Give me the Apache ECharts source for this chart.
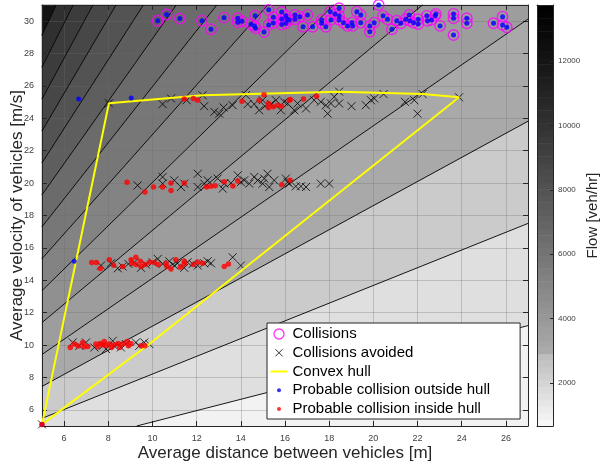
<!DOCTYPE html>
<html><head><meta charset="utf-8">
<script src="https://cdn.jsdelivr.net/npm/echarts@6/dist/echarts.min.js"></script>
<style>html,body{margin:0;padding:0;background:#fff}#c{width:602px;height:464px}</style>
</head><body><div id="c"></div>
<script>
// ---------- data ----------
const xTicks = [6, 8, 10, 12, 14, 16, 18, 20, 22, 24, 26];
const yTicks = [6, 8, 10, 12, 14, 16, 18, 20, 22, 24, 26, 28, 30];
const flowTicks = [2000, 4000, 6000, 8000, 10000, 12000];
const xRange = [5, 27];
const yRange = [5, 31];
const vehicleLength = 5; // flow = 3600 * v / (d + L)
const flowLevels = [1260, 1970, 2680, 3390, 4100, 4810, 5520, 6230, 6940, 7650, 8360, 9070, 9780, 10490];
const flowRange = [660, 13740];

const collisions = [
[10.24,30.03],[10.64,30.41],[11.24,30.16],[12.24,30.03],[12.65,29.50],[13.24,30.22],[13.86,30.18],[13.86,29.93],
[14.05,30.0],[14.46,29.81],[14.65,30.34],[14.62,29.71],[14.67,29.56],[15.05,29.33],[15.26,30.70],[15.26,29.77],
[15.47,30.24],[15.47,29.89],[15.85,30.57],[15.85,30.14],[15.85,29.79],[16.04,30.34],[16.09,30.14],[16.19,30.08],
[16.04,29.87],[16.45,30.39],[16.45,30.12],[16.67,30.28],[16.82,29.66],[17.02,30.39],[17.25,29.66],[17.66,30.08],
[17.66,29.87],[17.85,29.66],[18.05,30.59],[18.08,30.08],[18.26,30.45],[18.45,30.80],[18.45,30.32],[18.45,30.08],
[18.65,29.91],[18.83,29.71],[19.03,29.91],[19.06,29.71],[19.25,30.59],[19.43,30.39],[19.43,29.91],[19.84,29.71],
[19.84,29.35],[20.04,29.91],[20.24,31.0],[20.44,30.33],[20.64,30.12],[20.84,29.50],[21.06,30.03],[21.24,29.87],
[21.47,30.12],[21.62,30.39],[21.65,30.03],[21.82,29.91],[22.03,30.12],[22.03,29.83],[22.42,30.33],[22.45,30.03],
[22.63,30.08],[22.8,30.33],[22.83,30.45],[23.02,29.71],[23.63,30.45],[23.63,30.18],[23.63,29.15],[24.23,30.18],
[24.23,29.87],[25.44,29.87],[25.85,30.28],[25.85,29.77],[26.04,29.62]
];

const avoided = [
[5,5.1],
[8.03,24.93],[10.46,24.88],[10.84,25.23],[11.55,25.12],[12.27,25.43],[12.34,24.75],[12.8,24.40],[13.02,24.29],
[13.22,24.67],[13.63,24.81],[14.23,25.43],[14.31,24.88],[14.61,24.88],[14.83,24.50],[14.99,25.12],[15.09,24.75],
[15.36,24.88],[15.59,25.12],[15.81,24.50],[16.12,24.92],[15.96,25.02],[16.42,24.50],[16.57,24.92],[16.95,24.61],
[17.32,25.12],[17.62,25.02],[17.85,24.81],[17.93,24.29],[18.08,24.92],[18.23,25.33],[18.45,25.65],[18.45,24.92],
[19.01,24.75],[19.66,24.81],[19.89,25.12],[20.04,25.23],[20.46,25.50],[21.43,25.02],[21.85,25.12],[22.23,25.5],
[22.0,24.29],[23.88,25.3],
[9.33,19.86],[10.46,20.38],[10.46,19.97],[10.99,20.17],[11.29,19.76],[11.44,19.97],[12.05,20.58],[12.05,19.76],
[12.34,19.97],[12.5,20.17],[12.95,20.28],[13.18,19.66],[13.25,19.97],[13.55,20.0],[13.86,20.48],[14.0,20.06],
[14.15,20.17],[14.38,19.97],[14.61,20.38],[14.76,20.17],[14.99,19.97],[15.06,20.28],[15.21,20.58],[15.29,19.76],
[15.51,20.17],[16.12,20.06],[16.04,20.28],[16.19,19.97],[16.49,19.8],[16.72,19.8],[16.95,19.76],[17.62,19.97],[18.0,19.97],
[7.67,14.91],[8.12,15.05],[8.43,14.74],[8.65,14.85],[8.91,15.01],[9.18,15.11],[9.48,14.77],[9.71,14.97],
[10.01,15.11],[10.24,15.32],[10.46,15.01],[10.76,15.17],[10.99,14.91],[11.14,15.05],[11.44,14.77],[11.59,15.11],
[11.82,15.01],[12.05,14.91],[12.34,15.05],[12.5,15.17],[12.65,15.05],[13.63,15.42],[14.0,14.91],
[6.39,10.16],[6.69,9.95],[6.99,10.16],[7.37,9.85],[7.75,9.95],[7.9,9.75],[8.2,10.26],[8.27,9.95],
[8.57,9.85],[8.8,10.06],[9.25,10.16],[9.4,9.95],[9.63,10.16],[9.86,10.06]
];

const hull = [[5,5.1],[8.03,24.93],[12.27,25.43],[18.45,25.65],[22.23,25.5],[23.88,25.3],[9.86,10.06],[5,5.1]];

const outsideExtra = [[6.66,25.2],[9.04,25.25],[6.46,15.17],[5,5.1]];

const inside = [
[5,5.1],
[11.44,25.2],[11.85,25.23],[12.05,25.12],[14.05,25.06],[14.83,25.12],[15.05,25.45],[15.26,24.92],[15.26,24.67],
[15.47,24.71],[15.66,24.81],[15.85,24.75],[16.19,25.12],[16.24,25.16],[16.84,25.2],[17.43,25.37],
[8.85,20.05],[9.66,19.45],[10.05,19.76],[10.46,19.76],[10.84,20.0],[10.84,19.55],[11.44,20.0],[12.45,19.76],
[12.65,19.8],[12.84,19.84],[13.25,20.09],[13.64,19.82],[13.86,20.13],[15.85,19.9],[16.22,20.17],
[7.25,15.09],[7.46,15.09],[7.64,14.72],[8.05,15.26],[8.24,14.93],[8.65,14.85],[9.03,15.26],[9.06,15.05],
[9.25,15.42],[9.25,14.97],[9.45,15.17],[9.48,14.85],[9.66,14.97],[9.86,15.11],[10.08,15.09],[10.26,14.97],
[10.61,15.05],[10.66,14.85],[10.84,14.7],[11.06,15.26],[11.26,14.8],[11.44,15.17],[11.44,15.01],[11.85,14.97],
[12.05,15.13],[12.27,15.05],[13.25,14.85],[13.44,15.01],
[6.28,9.85],[6.46,10.06],[6.64,9.94],[6.84,10.16],[6.91,9.89],[7.07,9.91],[7.44,10.06],[7.52,9.89],
[7.64,10.1],[7.75,10.02],[7.82,10.22],[7.9,9.95],[8.05,10.06],[8.15,9.85],[8.27,10.02],[8.45,10.1],
[8.52,9.85],[8.65,10.06],[8.85,10.22],[8.91,9.95],[9.03,10.1],[9.48,9.95],[9.66,9.95]
];

// ---------- helpers ----------
const L = vehicleLength;
function grayAt(F) {
  let g;
  if (F < 3000) g = 250 - (F - flowRange[0]) * 0.028;
  else g = 170 * Math.pow(Math.max(0, 1 - (F - 3000) / (flowRange[1] - 3000)), 1.15);
  g = Math.max(0, Math.min(255, Math.round(g)));
  return 'rgb(' + g + ',' + g + ',' + g + ')';
}
function clipHalf(poly, f) {
  const out = [];
  for (let i = 0; i < poly.length; i++) {
    const a = poly[i], b = poly[(i + 1) % poly.length];
    const fa = f(a), fb = f(b);
    if (fa >= 0) out.push(a);
    if ((fa >= 0) !== (fb >= 0)) {
      const t = fa / (fa - fb);
      out.push([a[0] + t * (b[0] - a[0]), a[1] + t * (b[1] - a[1])]);
    }
  }
  return out;
}
const rectPoly = [[xRange[0], yRange[0]], [xRange[1], yRange[0]], [xRange[1], yRange[1]], [xRange[0], yRange[1]]];
const bounds = [flowRange[0]].concat(flowLevels, [flowRange[1]]);
const bands = [];
for (let i = 0; i < bounds.length - 1; i++) {
  const lo = bounds[i], hi = bounds[i + 1];
  let poly = rectPoly;
  if (i > 0) poly = clipHalf(poly, p => 3600 * p[1] - lo * (p[0] + L));
  if (i < bounds.length - 2) poly = clipHalf(poly, p => hi * (p[0] + L) - 3600 * p[1]);
  bands.push({ poly: poly, fill: grayAt((lo + hi) / 2) });
}
const contourSegs = flowLevels.map(F => {
  const d0 = Math.max(xRange[0], yRange[0] * 3600 / F - L);
  const d1 = Math.min(xRange[1], yRange[1] * 3600 / F - L);
  return [[d0, F * (d0 + L) / 3600], [d1, F * (d1 + L) / 3600]];
});
const nBlocks = 64;
const cbBlocks = [];
for (let i = 0; i < nBlocks; i++) {
  const lo = flowRange[0] + (flowRange[1] - flowRange[0]) * i / nBlocks;
  const hi = flowRange[0] + (flowRange[1] - flowRange[0]) * (i + 1) / nBlocks;
  cbBlocks.push({ lo: lo, hi: hi, fill: grayAt((lo + hi) / 2) });
}

const FONT = 'Liberation Sans, Arial, Helvetica, sans-serif';
const AX = '#262626';
const crossPath = 'path://M0,0L10,10M10,0L0,10';
const plain = v => String(v);

function mainAxis(extra) {
  return Object.assign({
    type: 'value', gridIndex: 0,
    axisLine: { show: true, onZero: false, lineStyle: { color: AX, width: 1 } },
    axisTick: { show: true, inside: true, length: 5, lineStyle: { color: AX } },
    axisLabel: { show: false },
    splitLine: { show: false }
  }, extra);
}

const option = {
  animation: false,
  textStyle: { fontFamily: FONT },
  grid: [
    { left: 42, top: 5, width: 486, height: 421, show: false, containLabel: false, outerBoundsMode: 'none' },
    { left: 537, top: 5, width: 16, height: 421, show: false, containLabel: false, outerBoundsMode: 'none' }
  ],
  xAxis: [
    mainAxis({ min: xRange[0], max: xRange[1], position: 'bottom',
      axisTick: { show: true, inside: true, length: 5, lineStyle: { color: AX }, customValues: xTicks },
      axisLabel: { show: true, customValues: xTicks, fontSize: 9, color: '#404040', margin: 8, formatter: plain },
      splitLine: { show: true, lineStyle: { color: 'rgba(110,110,110,0.3)', width: 1 } },
      name: 'Average distance between vehicles [m]', nameLocation: 'middle', nameGap: 19, nameMoveOverlap: false,
      nameTextStyle: { fontSize: 17, color: '#262626', fontFamily: FONT } }),
    mainAxis({ min: xRange[0], max: xRange[1], position: 'top',
      axisTick: { show: true, inside: true, length: 5, lineStyle: { color: AX }, customValues: xTicks } }),
    { type: 'value', gridIndex: 1, min: 0, max: 1, position: 'bottom',
      axisLine: { show: true, onZero: false, lineStyle: { color: AX } }, axisTick: { show: false }, axisLabel: { show: false }, splitLine: { show: false } },
    { type: 'value', gridIndex: 1, min: 0, max: 1, position: 'top',
      axisLine: { show: true, onZero: false, lineStyle: { color: AX } }, axisTick: { show: false }, axisLabel: { show: false }, splitLine: { show: false } }
  ],
  yAxis: [
    mainAxis({ min: yRange[0], max: yRange[1], position: 'left',
      axisTick: { show: true, inside: true, length: 5, lineStyle: { color: AX }, customValues: yTicks },
      axisLabel: { show: true, customValues: yTicks, fontSize: 9, color: '#404040', margin: 8, formatter: plain },
      splitLine: { show: true, lineStyle: { color: 'rgba(110,110,110,0.3)', width: 1 } },
      name: 'Average velocity of vehicles [m/s]', nameLocation: 'middle', nameGap: 16, nameRotate: 90, nameMoveOverlap: false,
      nameTextStyle: { fontSize: 17, color: '#262626', fontFamily: FONT } }),
    mainAxis({ min: yRange[0], max: yRange[1], position: 'right',
      axisTick: { show: true, inside: true, length: 5, lineStyle: { color: AX }, customValues: yTicks } }),
    { type: 'value', gridIndex: 1, min: flowRange[0], max: flowRange[1], position: 'right',
      axisLine: { show: true, onZero: false, lineStyle: { color: AX } },
      axisTick: { show: true, inside: true, length: 3, lineStyle: { color: AX }, customValues: flowTicks },
      axisLabel: { show: true, customValues: flowTicks, fontSize: 8, color: '#404040', margin: 5, formatter: plain },
      splitLine: { show: false },
      name: 'Flow [veh/hr]', nameLocation: 'middle', nameGap: 32, nameRotate: 90, nameMoveOverlap: false,
      nameTextStyle: { fontSize: 15, color: '#262626', fontFamily: FONT } },
    { type: 'value', gridIndex: 1, min: flowRange[0], max: flowRange[1], position: 'left',
      axisLine: { show: true, onZero: false, lineStyle: { color: AX } }, axisTick: { show: false }, axisLabel: { show: false }, splitLine: { show: false } }
  ],
  legend: {
    orient: 'vertical', left: 267, top: 323,
    backgroundColor: '#fff', borderColor: AX, borderWidth: 1,
    padding: [3.5, 30, 2.5, 1], itemGap: 3.75, itemWidth: 17, itemHeight: 10,
    selectedMode: false,
    textStyle: { fontSize: 15, color: '#000', fontFamily: FONT },
    data: [
      { name: 'Collisions', icon: 'circle', itemStyle: { color: 'none', borderColor: '#ff00ff', borderWidth: 1.3 } },
      { name: 'Collisions avoided', icon: 'path://M-2,-2L-2,-2M12,12L12,12M0,0L10,10M10,0L0,10', itemStyle: { color: 'none', borderColor: '#000', borderWidth: 1 } },
      { name: 'Convex hull', icon: 'path://M0,0L0,0M0,10L0,10M0,5L17,5', itemStyle: { color: 'none', borderColor: '#ffff00', borderWidth: 2 } },
      { name: 'Probable collision outside hull', icon: 'path://M0,0L0,0M10,10L10,10M3,5A2,2,0,1,1,7,5A2,2,0,1,1,3,5Z', itemStyle: { color: '#0000ff', borderWidth: 0 } },
      { name: 'Probable collision inside hull', icon: 'path://M0,0L0,0M10,10L10,10M3,5A2,2,0,1,1,7,5A2,2,0,1,1,3,5Z', itemStyle: { color: '#ff0000', borderWidth: 0 } }
    ]
  },
  series: [
    { type: 'custom', name: 'flowFill', coordinateSystem: 'cartesian2d', xAxisIndex: 0, yAxisIndex: 0,
      silent: true, z: -1, encode: { x: 0, y: 1 },
      data: bands.map((b, i) => [xRange[0], yRange[0], i]),
      renderItem: function (params, api) {
        const b = bands[params.dataIndex];
        if (b.poly.length < 3) return null;
        return { type: 'polygon', shape: { points: b.poly.map(p => api.coord(p)) },
          style: { fill: b.fill, stroke: b.fill, lineWidth: 0.5 } };
      } },
    { type: 'custom', name: 'flowLines', coordinateSystem: 'cartesian2d', xAxisIndex: 0, yAxisIndex: 0,
      silent: true, z: 1, encode: { x: 0, y: 1 },
      data: contourSegs.map((s, i) => [xRange[0], yRange[0], i]),
      renderItem: function (params, api) {
        const s = contourSegs[params.dataIndex];
        const a = api.coord(s[0]), b = api.coord(s[1]);
        return { type: 'line', shape: { x1: a[0], y1: a[1], x2: b[0], y2: b[1] },
          style: { stroke: '#000', lineWidth: 0.9 } };
      } },
    { type: 'custom', name: 'colorbar', coordinateSystem: 'cartesian2d', xAxisIndex: 2, yAxisIndex: 2,
      silent: true, z: -1, encode: { x: 0, y: 1 },
      data: cbBlocks.map((b, i) => [0, b.lo, i]),
      renderItem: function (params, api) {
        const b = cbBlocks[params.dataIndex];
        const p0 = api.coord([0, b.hi]), p1 = api.coord([1, b.lo]);
        return { type: 'rect', shape: { x: p0[0], y: p0[1], width: p1[0] - p0[0], height: p1[1] - p0[1] + 0.5 },
          style: { fill: b.fill } };
      } },
    { type: 'scatter', name: 'Collisions', xAxisIndex: 0, yAxisIndex: 0, data: collisions,
      symbol: 'circle', symbolSize: 10.5, z: 3,
      itemStyle: { color: 'none', borderColor: '#ff00ff', borderWidth: 1.4 } },
    { type: 'scatter', name: 'Collisions avoided', xAxisIndex: 0, yAxisIndex: 0, data: avoided,
      symbol: crossPath, symbolSize: 8, z: 4,
      itemStyle: { color: 'none', borderColor: '#000', borderWidth: 1 } },
    { type: 'line', name: 'Convex hull', xAxisIndex: 0, yAxisIndex: 0, data: hull,
      showSymbol: false, symbol: 'none', z: 5, lineStyle: { color: '#ffff00', width: 2 }, itemStyle: { color: '#ffff00' } },
    { type: 'scatter', name: 'Probable collision outside hull', xAxisIndex: 0, yAxisIndex: 0, data: collisions.concat(outsideExtra),
      symbol: 'circle', symbolSize: 5, z: 6, itemStyle: { color: '#0000ff' } },
    { type: 'scatter', name: 'Probable collision inside hull', xAxisIndex: 0, yAxisIndex: 0, data: inside,
      symbol: 'circle', symbolSize: 5.5, z: 7, itemStyle: { color: '#ff0000' } }
  ]
};
const chart = echarts.init(document.getElementById('c'));
chart.setOption(option);
</script>
</body></html>
